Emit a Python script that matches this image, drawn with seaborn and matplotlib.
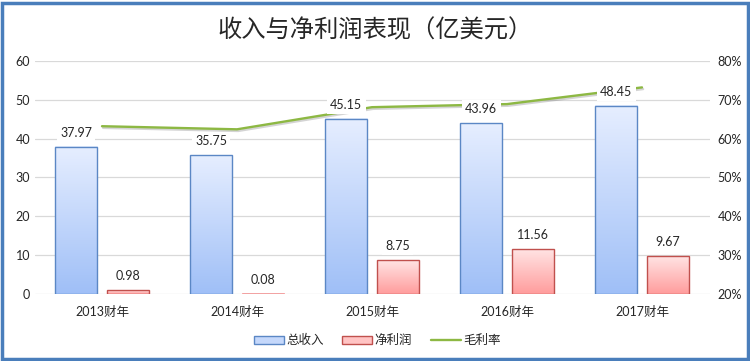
import matplotlib
matplotlib.use('Agg')
import matplotlib.pyplot as plt
import matplotlib.patheffects as pe
from matplotlib.colors import LinearSegmentedColormap
from matplotlib.patches import Patch, Rectangle
from matplotlib.lines import Line2D
import numpy as np
import pandas as pd
import seaborn as sns

# data
years = ['2013财年', '2014财年', '2015财年', '2016财年', '2017财年']
revenue = [37.97, 35.75, 45.15, 43.96, 48.45]
net_profit = [0.98, 0.08, 8.75, 11.56, 9.67]
gross_margin = [0.632, 0.624, 0.681, 0.689, 0.732]
series_names = ['总收入', '净利润', '毛利率']

sns.set_style('white')
plt.rcParams['font.family'] = ['Lato', 'Noto Sans CJK SC', 'DejaVu Sans']

df = pd.DataFrame({
    'year': years * 2,
    'value': revenue + net_profit,
    'series': [series_names[0]] * 5 + [series_names[1]] * 5,
})

fig = plt.figure(figsize=(7.5, 3.61), dpi=100)
ax = fig.add_axes([0.046, 0.186, 0.9, 0.645])

sns.barplot(data=df, x='year', y='value', hue='series', order=years,
            hue_order=series_names[:2], palette=['#c5d8fb', '#ffc4c4'],
            width=0.76, gap=0.18, ax=ax, legend=False, errorbar=None)

# gradient fill for the bars
grad = np.linspace(0, 1, 256).reshape(-1, 1)
styles = [('#e6eeff', '#9fbff7', '#5b87c5'), ('#ffe4e4', '#ff9c9c', '#c0504d')]
for i, p in enumerate(ax.patches[:10]):
    top_c, bot_c, edge_c = styles[i // 5]
    cmap = LinearSegmentedColormap.from_list('g', [top_c, bot_c])
    x0, y0 = p.get_x(), p.get_y()
    w, h = p.get_width(), p.get_height()
    ax.imshow(grad, cmap=cmap, extent=[x0, x0 + w, y0, y0 + h], origin='upper',
              aspect='auto', zorder=2, interpolation='bilinear')
    p.set_facecolor('none')
    p.set_edgecolor(edge_c)
    p.set_linewidth(1)
    p.set_zorder(3)

ax.set_xlim(-0.5, 4.5)
ax.set_ylim(0, 60)
ax.set_yticks(range(0, 61, 10))
ax.yaxis.grid(True, color='#d9d9d9', lw=0.9)
ax.set_axisbelow(True)
for s in ax.spines.values():
    s.set_visible(False)
ax.set_xlabel('')
ax.set_ylabel('')
ax.tick_params(axis='both', length=0, labelsize=9, colors='#262626')
ax.tick_params(axis='y', pad=3)
ax.tick_params(axis='x', pad=9)

# gross margin on secondary axis
ax2 = ax.twinx()
sns.lineplot(x=np.arange(5), y=gross_margin, ax=ax2, color='#8db843', lw=1.7,
             path_effects=[pe.SimpleLineShadow(offset=(0.8, -1.2), shadow_color='#555555', alpha=0.25),
                           pe.Normal()])
ax2.set_ylim(0.2, 0.8)
ax2.set_yticks(np.arange(0.2, 0.81, 0.1))
ax2.set_yticklabels([f'{int(round(v * 100))}%' for v in np.arange(0.2, 0.81, 0.1)])
ax2.tick_params(axis='y', length=0, labelsize=9, colors='#262626', pad=6)
for s in ax2.spines.values():
    s.set_visible(False)
ax2.set_xlim(-0.5, 4.5)

# value labels
for vals, off in [(revenue, -0.19), (net_profit, 0.19)]:
    for i, v in enumerate(vals):
        ax2.annotate(f'{v:.2f}', xy=(i + off, v), xycoords=ax.transData,
                     xytext=(0, 10), textcoords='offset points', ha='center', va='center',
                     fontsize=9, color='#262626', zorder=10,
                     bbox=dict(boxstyle='square,pad=0.25', fc='white', ec='none'))

fig.suptitle('收入与净利润表现（亿美元）', y=0.917, fontsize=17.5, color='#262626',
             fontfamily=['Noto Sans CJK SC'], fontweight='light', va='center')

handles = [Patch(facecolor='#c5d8fb', edgecolor='#5b87c5', lw=1),
           Patch(facecolor='#ffc4c4', edgecolor='#c0504d', lw=1),
           Line2D([0], [0], color='#8db843', lw=1.7)]
fig.legend(handles, series_names, loc='center', bbox_to_anchor=(0.503, 0.058), ncol=3,
           frameon=False, fontsize=9, handlelength=2.4, handleheight=0.6,
           handletextpad=0.2, columnspacing=1.5)

fig.patches.append(Rectangle((0.0027, 0.0055), 0.9946, 0.9862, transform=fig.transFigure,
                             fill=False, edgecolor='#4a7ebb', lw=2.5))

fig.savefig('out.png', dpi=100)
